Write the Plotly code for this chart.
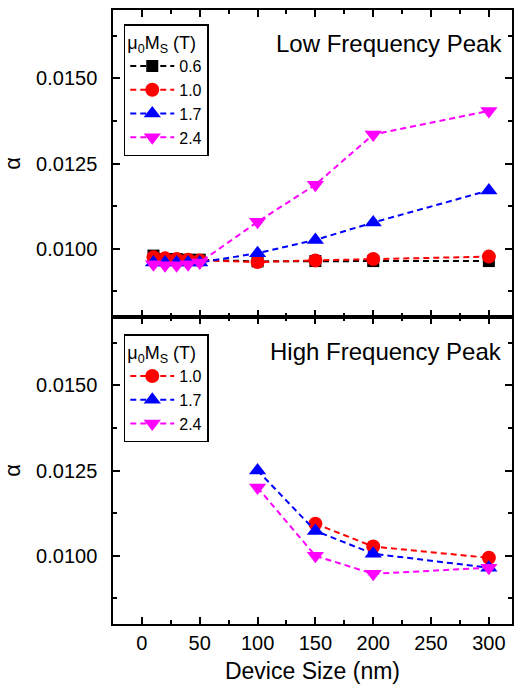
import plotly.graph_objects as go
from plotly.subplots import make_subplots

# ---- data ----
x_low = [10, 20, 30, 40, 50, 100, 150, 200, 300]
low_06 = [0.0098, 0.0097, 0.0097, 0.00968, 0.00968, 0.00963, 0.00964, 0.00964, 0.00964]
low_10 = [0.00975, 0.00972, 0.0097, 0.00968, 0.00966, 0.00961, 0.00966, 0.0097, 0.00977]
low_17 = [0.0096, 0.0096, 0.0096, 0.0096, 0.0096, 0.00987, 0.01026, 0.01077, 0.01171]
low_24 = [0.00955, 0.00952, 0.00952, 0.00955, 0.0096, 0.01079, 0.01188, 0.01335, 0.01404]

x_high = [100, 150, 200, 300]
high_10 = [None, 0.01094, 0.01027, 0.00994]
high_17 = [0.0125, 0.01073, 0.01006, 0.00965]
high_24 = [0.0120, 0.0100, 0.00947, 0.00965]

labels = ["0.6", "1.0", "1.7", "2.4"]
colors = ["#000000", "#ff0000", "#0000ff", "#ff00ff"]
symbols = ["square", "circle", "triangle-up", "triangle-down"]
msizes = [12, 14, 15, 15]

FONT = "Liberation Sans, Arial, sans-serif"

fig = make_subplots(rows=2, cols=1, shared_xaxes=True, vertical_spacing=0)

low_series = [low_06, low_10, low_17, low_24]
for i, ys in enumerate(low_series):
    fig.add_trace(go.Scatter(
        x=x_low, y=ys, mode="lines+markers", name=labels[i],
        line=dict(color=colors[i], width=2, dash="6px,4px"),
        marker=dict(symbol=symbols[i], size=msizes[i], color=colors[i]),
        legend="legend", connectgaps=True), row=1, col=1)

high_series = [high_10, high_17, high_24]
for j, ys in enumerate(high_series):
    i = j + 1
    fig.add_trace(go.Scatter(
        x=x_high, y=ys, mode="lines+markers", name=labels[i],
        line=dict(color=colors[i], width=2, dash="6px,4px"),
        marker=dict(symbol=symbols[i], size=msizes[i], color=colors[i]),
        legend="legend2", connectgaps=True), row=2, col=1)

axis_common = dict(
    showline=True, linecolor="black", linewidth=1.5, mirror="allticks",
    ticks="inside", ticklen=7, tickwidth=1.5, tickcolor="black",
    showgrid=False, zeroline=False,
    tickfont=dict(family=FONT, size=20, color="black"),
)
xaxis_common = dict(axis_common, range=[-25, 320], dtick=50, tick0=0,
                    minor=dict(ticks="inside", ticklen=4, tickwidth=1.5,
                               tickcolor="black", dtick=25, showgrid=False))
yaxis_common = dict(axis_common, range=[0.008, 0.017], dtick=0.0025, tick0=0.0,
                    tickformat=".4f", ticklabelstandoff=10,
                    minor=dict(ticks="inside", ticklen=4, tickwidth=1.5,
                               tickcolor="black", dtick=0.00125, showgrid=False),
                    title=dict(text="α", font=dict(family=FONT, size=22, color="black"),
                               standoff=10))

fig.update_xaxes(**xaxis_common)
fig.update_xaxes(showticklabels=False, row=1, col=1)
fig.update_xaxes(title=dict(text="Device Size (nm)",
                            font=dict(family=FONT, size=23, color="black"),
                            standoff=10), row=2, col=1)
fig.update_yaxes(**yaxis_common)

legend_common = dict(
    bgcolor="white", bordercolor="black", borderwidth=1.5,
    font=dict(family=FONT, size=16, color="black"),
    xanchor="left", yanchor="top", itemwidth=44, tracegroupgap=0,
)
legend_title = dict(text="μ<sub>0</sub>M<sub>S</sub> (T)",
                    font=dict(family=FONT, size=18, color="black"))
fig.update_layout(
    width=515, height=694,
    margin=dict(l=113, r=1, t=10, b=70),
    plot_bgcolor="white", paper_bgcolor="white",
    font=dict(family=FONT, color="black"),
    legend=dict(legend_common, x=0.027, y=0.977, title=legend_title),
    legend2=dict(legend_common, x=0.027, y=0.472, title=legend_title),
    showlegend=True,
    annotations=[
        dict(text="Low Frequency Peak", xref="paper", yref="paper",
             x=0.98, y=0.945, xanchor="right", yanchor="middle", showarrow=False,
             font=dict(family=FONT, size=24, color="black")),
        dict(text="High Frequency Peak", xref="paper", yref="paper",
             x=0.98, y=0.443, xanchor="right", yanchor="middle", showarrow=False,
             font=dict(family=FONT, size=24, color="black")),
    ],
)

fig.write_html("out.html")
